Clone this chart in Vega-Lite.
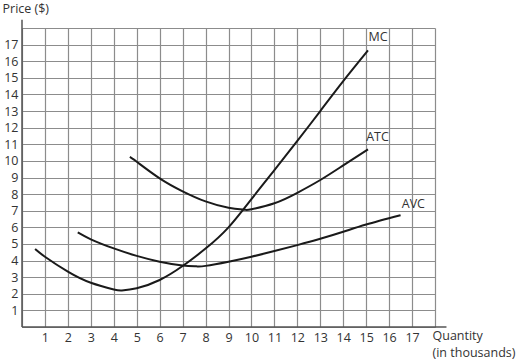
{
  "$schema": "https://vega.github.io/schema/vega-lite/v6.json",
  "autosize": {"type": "none"},
  "width": 413,
  "height": 299,
  "padding": {"left": 22, "top": 28, "right": 81, "bottom": 35},
  "background": "white",
  "config": {
    "view": {"stroke": null},
    "font": "Open Sans",
    "text": {"font": "Open Sans"}
  },
  "datasets": {
    "curves": [
      {"curve": "MC", "q": 0.57, "p": 4.69},
      {"curve": "MC", "q": 1, "p": 4.23},
      {"curve": "MC", "q": 2, "p": 3.33},
      {"curve": "MC", "q": 3, "p": 2.66},
      {"curve": "MC", "q": 4, "p": 2.26},
      {"curve": "MC", "q": 4.35, "p": 2.2},
      {"curve": "MC", "q": 5, "p": 2.33},
      {"curve": "MC", "q": 6, "p": 2.83},
      {"curve": "MC", "q": 7, "p": 3.67},
      {"curve": "MC", "q": 8, "p": 4.72},
      {"curve": "MC", "q": 9, "p": 6.0},
      {"curve": "MC", "q": 10, "p": 7.7},
      {"curve": "MC", "q": 11, "p": 9.44},
      {"curve": "MC", "q": 12, "p": 11.2},
      {"curve": "MC", "q": 13, "p": 13.0},
      {"curve": "MC", "q": 14, "p": 14.8},
      {"curve": "MC", "q": 15.08, "p": 16.65},
      {"curve": "ATC", "q": 4.7, "p": 10.24},
      {"curve": "ATC", "q": 5, "p": 9.95},
      {"curve": "ATC", "q": 6, "p": 8.95},
      {"curve": "ATC", "q": 7, "p": 8.17},
      {"curve": "ATC", "q": 8, "p": 7.56},
      {"curve": "ATC", "q": 9, "p": 7.18},
      {"curve": "ATC", "q": 9.7, "p": 7.06},
      {"curve": "ATC", "q": 10, "p": 7.09},
      {"curve": "ATC", "q": 11, "p": 7.45},
      {"curve": "ATC", "q": 12, "p": 8.08},
      {"curve": "ATC", "q": 13, "p": 8.85},
      {"curve": "ATC", "q": 14, "p": 9.73},
      {"curve": "ATC", "q": 15.08, "p": 10.69},
      {"curve": "AVC", "q": 2.43, "p": 5.69},
      {"curve": "AVC", "q": 3, "p": 5.28},
      {"curve": "AVC", "q": 4, "p": 4.73},
      {"curve": "AVC", "q": 5, "p": 4.28},
      {"curve": "AVC", "q": 6, "p": 3.93},
      {"curve": "AVC", "q": 7, "p": 3.7},
      {"curve": "AVC", "q": 7.6, "p": 3.65},
      {"curve": "AVC", "q": 8, "p": 3.68},
      {"curve": "AVC", "q": 9, "p": 3.93},
      {"curve": "AVC", "q": 10, "p": 4.23},
      {"curve": "AVC", "q": 11, "p": 4.57},
      {"curve": "AVC", "q": 12, "p": 4.93},
      {"curve": "AVC", "q": 13, "p": 5.31},
      {"curve": "AVC", "q": 14, "p": 5.73},
      {"curve": "AVC", "q": 15, "p": 6.17},
      {"curve": "AVC", "q": 16.5, "p": 6.73}
    ],
    "labels": [
      {"label": "MC", "q": 15.1, "p": 17.46},
      {"label": "ATC", "q": 15.0, "p": 11.42},
      {"label": "AVC", "q": 16.55, "p": 7.4}
    ],
    "axes": [
      {"q": 0, "q2": 18.5, "p": 0, "p2": 0},
      {"q": 0, "q2": 0, "p": 0, "p2": 18.5}
    ]
  },
  "encoding": {
    "x": {
      "field": "q", "type": "quantitative",
      "scale": {"domain": [0, 18], "nice": false, "zero": false},
      "axis": {
        "values": [0,1,2,3,4,5,6,7,8,9,10,11,12,13,14,15,16,17,18],
        "labelExpr": "datum.value >= 1 && datum.value <= 17 ? datum.label : ''",
        "labelOverlap": false,
        "grid": true, "gridColor": "#8c8c8c", "gridWidth": 1.2,
        "domain": false, "ticks": false,
        "labelFontSize": 12.5, "labelColor": "#333", "labelPadding": 4, "labelFont": "Open Sans",
        "title": ["Quantity", "(in thousands)"],
        "titleFontSize": 12.5, "titleFontWeight": "normal", "titleColor": "#333", "titleFont": "Open Sans",
        "titleAlign": "left", "titleAnchor": null, "titleBaseline": "top",
        "titleX": 410, "titleY": 2, "titleLineHeight": 17
      }
    },
    "y": {
      "field": "p", "type": "quantitative",
      "scale": {"domain": [0, 18], "nice": false, "zero": false},
      "axis": {
        "values": [0,1,2,3,4,5,6,7,8,9,10,11,12,13,14,15,16,17,18],
        "labelExpr": "datum.value >= 1 && datum.value <= 17 ? datum.label : ''",
        "labelOverlap": false,
        "grid": true, "gridColor": "#8c8c8c", "gridWidth": 1.2,
        "domain": false, "ticks": false,
        "labelFontSize": 12.5, "labelColor": "#333", "labelPadding": 4, "labelFont": "Open Sans",
        "title": "Price ($)",
        "titleFontSize": 12.5, "titleFontWeight": "normal", "titleColor": "#333", "titleFont": "Open Sans",
        "titleAngle": 0, "titleAlign": "left", "titleAnchor": null, "titleBaseline": "middle",
        "titleX": -20, "titleY": -20
      }
    }
  },
  "layer": [
    {
      "data": {"name": "curves"},
      "mark": {"type": "line", "interpolate": "natural", "color": "#1a1a1a", "strokeWidth": 2},
      "encoding": {
        "detail": {"field": "curve", "type": "nominal"}
      }
    },
    {
      "data": {"name": "axes"},
      "mark": {"type": "rule", "color": "#555", "strokeWidth": 1.5},
      "encoding": {
        "x2": {"field": "q2"},
        "y2": {"field": "p2"}
      }
    },
    {
      "data": {"name": "labels"},
      "mark": {"type": "text", "align": "left", "baseline": "middle", "fontSize": 12.5, "color": "#333", "font": "Open Sans"},
      "encoding": {
        "text": {"field": "label", "type": "nominal"}
      }
    }
  ]
}
